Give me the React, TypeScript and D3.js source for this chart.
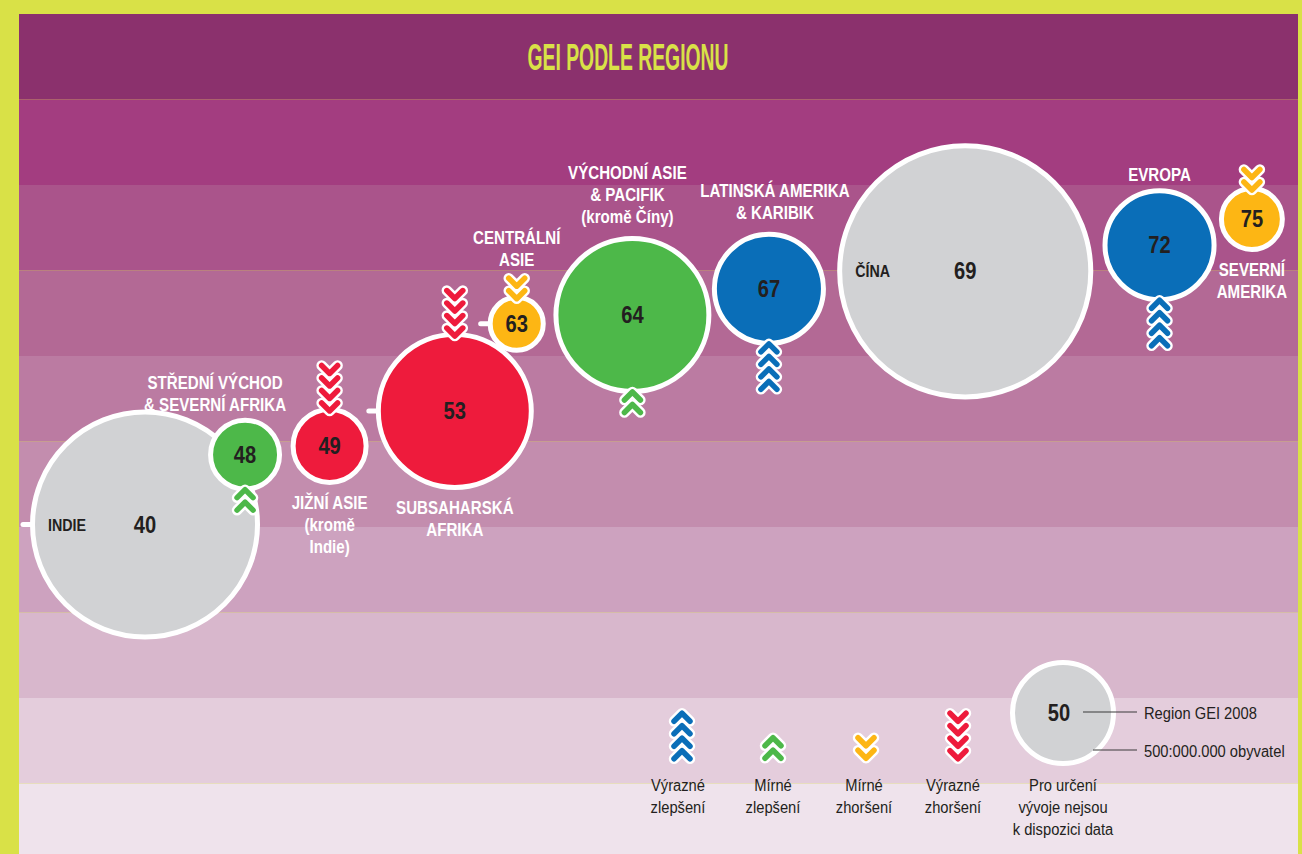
import React from "react";
import * as d3 from "d3";

// ---------------- DATA ----------------
const title = "GEI PODLE REGIONU";
const regionNames = [
  "Indie",
  "Střední východ & severní Afrika",
  "Jižní Asie (kromě Indie)",
  "Subsaharská Afrika",
  "Centrální Asie",
  "Východní Asie & Pacifik (kromě Číny)",
  "Latinská Amerika & Karibik",
  "Čína",
  "Evropa",
  "Severní Amerika",
];
const gei2008 = [40, 48, 49, 53, 63, 64, 67, 69, 72, 75];
const populationMillions = [1085, 349, 368, 745, 274, 745, 538, 1208, 538, 311];
// 2 = výrazné zlepšení, 1 = mírné zlepšení, -1 = mírné zhoršení, -2 = výrazné zhoršení, 0 = bez dat
const trendLevel = [0, 1, -2, -2, -1, 1, 2, 0, 2, -1];
const regionLabels = [
  ["INDIE"],
  ["STŘEDNÍ VÝCHOD", "& SEVERNÍ AFRIKA"],
  ["JIŽNÍ ASIE", "(kromě", "Indie)"],
  ["SUBSAHARSKÁ", "AFRIKA"],
  ["CENTRÁLNÍ", "ASIE"],
  ["VÝCHODNÍ ASIE", "& PACIFIK", "(kromě Číny)"],
  ["LATINSKÁ AMERIKA", "& KARIBIK"],
  ["ČÍNA"],
  ["EVROPA"],
  ["SEVERNÍ", "AMERIKA"],
];
const legendTrendLevels = [2, 1, -1, -2];
const legendTrendLabels = [
  ["Výrazné", "zlepšení"],
  ["Mírné", "zlepšení"],
  ["Mírné", "zhoršení"],
  ["Výrazné", "zhoršení"],
];
const legendNoDataLabel = ["Pro určení", "vývoje nejsou", "k dispozici data"];
const legendGei = 50;
const legendPopulation = 500;
const legendGeiText = "Region GEI 2008";
const legendPopText = "500:000.000 obyvatel";

// ---------------- LAYOUT / STYLE ----------------
const W = 1302;
const H = 854;
const FRAME = { left: 19, top: 14, right: 1298 };
const labelPlacement = ["inside", "above", "below", "below", "above", "above", "above", "inside", "above", "below"];
const labelDx = [0, -30, 0, 0, 0, -5, 6, 0, 0, 0];
const labelDy = [0, 0, 0, 0, 0, -6, -6, 0, 0, 0];
const packGap = [0, -30, 9, 12, -1, 8, 3, 12, 11, 6];
const withStub = [true, false, false, true, true, false, false, false, false, false];
const bandColors = [
  "#8b316d", "#a33d80", "#aa548b", "#b36995", "#bb7ba2",
  "#c38dae", "#cda2bf", "#d8b7cc", "#e4cddc", "#efe3ec",
];
const trendColor: Record<number, string> = {
  2: "#0a6eb8",
  1: "#4db849",
  [-1]: "#fdb614",
  [-2]: "#ee1b3c",
  0: "#d1d2d4",
};
const FONT = "'Liberation Sans', Arial, sans-serif";
const DARK = "#231f20";
const LIME = "#d9e147";
const STROKE = 5;
const CHEV_STEP = 12.5;
const CHEV_EXT = 9.25;
const CONDENSE = 0.84;

const bandScale = d3.scaleLinear().domain([100, 0]).range([FRAME.top, FRAME.top + 855]);
const yScale = d3.scaleLinear().domain([40, 75]).range([524.5, 219]);
const rScale = d3.scaleLinear().domain([0, 500]).range([0, 53]);
const chevLine = d3.line();

function CText(props: {
  x: number;
  y: number;
  size: number;
  fill: string;
  anchor?: string;
  bold?: boolean;
  sx?: number;
  children: React.ReactNode;
}) {
  const { x, y, size, fill, anchor = "middle", bold = true, sx = CONDENSE, children } = props;
  return (
    <text
      transform={`translate(${x},${y}) scale(${sx},1)`}
      textAnchor={anchor}
      fontFamily={FONT}
      fontWeight={bold ? "bold" : "normal"}
      fontSize={size}
      fill={fill}
    >
      {children}
    </text>
  );
}

function chevronStack(cx: number, yFirst: number, count: number, up: boolean, color: string, key: string) {
  const out: React.ReactNode[] = [];
  for (let i = 0; i < count; i++) {
    const cy = yFirst + i * CHEV_STEP;
    const pts: [number, number][] = up
      ? [[cx - 8, cy + 4], [cx, cy - 4], [cx + 8, cy + 4]]
      : [[cx - 8, cy - 4], [cx, cy + 4], [cx + 8, cy - 4]];
    const d = chevLine(pts) || "";
    out.push(
      <g key={`${key}-${i}`}>
        <path d={d} fill="none" stroke="#fff" strokeWidth={10.5} strokeLinecap="round" strokeLinejoin="round" />
        <path d={d} fill="none" stroke={color} strokeWidth={5.5} strokeLinecap="round" strokeLinejoin="round" />
      </g>
    );
  }
  return out;
}

export default function App() {
  // pack bubbles left to right, each tangent to the previous one
  const nodes: { cx: number; cy: number; R: number }[] = [];
  gei2008.forEach((v, i) => {
    const R = rScale(populationMillions[i]);
    const cy = yScale(v);
    let cx: number;
    if (i === 0) cx = FRAME.left + 11 + R;
    else {
      const p = nodes[i - 1];
      const dist = p.R + R + packGap[i];
      const dy = cy - p.cy;
      cx = p.cx + Math.sqrt(Math.max(dist * dist - dy * dy, 0));
    }
    nodes.push({ cx, cy, R });
  });

  const bands = d3.range(10).map((k) => {
    const top = 100 - k * 10;
    return { y0: bandScale(top), y1: bandScale(top - 10), color: bandColors[k] };
  });

  const legendR = rScale(legendPopulation);
  const legendC = { x: 1063, y: 713 };
  const legendXs = [682, 773, 866, 958];
  const legendTextXs = [678, 773, 864, 953];

  return (
    <svg width={W} height={H} style={{ position: "absolute", left: 0, top: 0 }}>
      <rect x={0} y={0} width={W} height={H} fill={LIME} />
      {bands.map((b, k) => (
        <rect key={k} x={FRAME.left} y={b.y0} width={FRAME.right - FRAME.left} height={Math.min(b.y1, H) - b.y0} fill={b.color} />
      ))}
      <text
        x={628}
        y={70}
        textAnchor="middle"
        fontFamily={FONT}
        fontWeight="bold"
        fontSize={37}
        fill={LIME}
        textLength={201}
        lengthAdjust="spacingAndGlyphs"
      >
        {title}
      </text>

      {/* stubs */}
      {nodes.map((n, i) =>
        withStub[i] ? (
          <line key={`s${i}`} x1={n.cx - n.R - 7} x2={n.cx - n.R + 3} y1={n.cy} y2={n.cy} stroke="#fff" strokeWidth={5} strokeLinecap="round" />
        ) : null
      )}

      {/* bubbles */}
      {nodes.map((n, i) => (
        <g key={`c${i}`}>
          <circle cx={n.cx} cy={n.cy} r={n.R - STROKE / 2} fill={trendColor[trendLevel[i]]} stroke="#fff" strokeWidth={STROKE} />
          <CText x={n.cx} y={n.cy + 8} size={24} fill={DARK}>
            {gei2008[i]}
          </CText>
        </g>
      ))}

      {/* trend chevrons */}
      {nodes.map((n, i) => {
        const t = trendLevel[i];
        if (t === 0) return null;
        const count = Math.abs(t) === 2 ? 4 : 2;
        const up = t > 0;
        const yFirst = up ? n.cy + n.R + 2 : n.cy - n.R - (count - 1) * CHEV_STEP;
        return <g key={`ch${i}`}>{chevronStack(n.cx, yFirst, count, up, trendColor[t], `ch${i}`)}</g>;
      })}

      {/* labels */}
      {nodes.map((n, i) => {
        const lines = regionLabels[i];
        const place = labelPlacement[i];
        const t = trendLevel[i];
        const count = Math.abs(t) === 2 ? 4 : t === 0 ? 0 : 2;
        const x = n.cx + labelDx[i];
        if (place === "inside") {
          return (
            <CText key={`l${i}`} x={n.cx - n.R + 18} y={n.cy + 6} size={17} fill={DARK} anchor="start">
              {lines[0]}
            </CText>
          );
        }
        if (place === "above") {
          const topY = t < 0 ? n.cy - n.R - (count - 1) * CHEV_STEP - CHEV_EXT : n.cy - n.R;
          const last = topY - 7 + labelDy[i];
          return (
            <g key={`l${i}`}>
              {lines.map((s, j) => (
                <CText key={j} x={x} y={last - (lines.length - 1 - j) * 22} size={18} fill="#fff">
                  {s}
                </CText>
              ))}
            </g>
          );
        }
        const botY = t > 0 ? n.cy + n.R + 2 + (count - 1) * CHEV_STEP + CHEV_EXT : n.cy + n.R;
        const first = botY + 24 + labelDy[i];
        return (
          <g key={`l${i}`}>
            {lines.map((s, j) => (
              <CText key={j} x={x} y={first + j * 22} size={18} fill="#fff">
                {s}
              </CText>
            ))}
          </g>
        );
      })}

      {/* legend: trend chevrons */}
      {legendTrendLevels.map((t, k) => {
        const count = Math.abs(t) === 2 ? 4 : 2;
        const up = t > 0;
        const mid = count === 4 ? 736 : 748;
        const yFirst = mid - ((count - 1) * CHEV_STEP) / 2;
        return (
          <g key={`lg${k}`}>
            {chevronStack(legendXs[k], yFirst, count, up, trendColor[t], `lg${k}`)}
            {legendTrendLabels[k].map((s, j) => (
              <CText key={j} x={legendTextXs[k]} y={791 + j * 22} size={16} fill={DARK} bold={false} sx={0.92}>
                {s}
              </CText>
            ))}
          </g>
        );
      })}

      {/* legend: size / value */}
      <circle cx={legendC.x} cy={legendC.y} r={legendR - STROKE / 2} fill={trendColor[0]} stroke="#fff" strokeWidth={STROKE} />
      <CText x={legendC.x - 4} y={legendC.y + 8} size={24} fill={DARK}>
        {legendGei}
      </CText>
      <line x1={1083} x2={1137} y1={712} y2={712} stroke="#3a3a3a" strokeWidth={1.2} />
      <line x1={1093} x2={1137} y1={750} y2={750} stroke="#3a3a3a" strokeWidth={1.2} />
      <CText x={1144} y={719} size={16} fill={DARK} bold={false} sx={0.92} anchor="start">
        {legendGeiText}
      </CText>
      <CText x={1144} y={757} size={16} fill={DARK} bold={false} sx={0.92} anchor="start">
        {legendPopText}
      </CText>
      {legendNoDataLabel.map((s, j) => (
        <CText key={j} x={1063} y={791 + j * 22} size={16} fill={DARK} bold={false} sx={0.92}>
          {s}
        </CText>
      ))}
    </svg>
  );
}
